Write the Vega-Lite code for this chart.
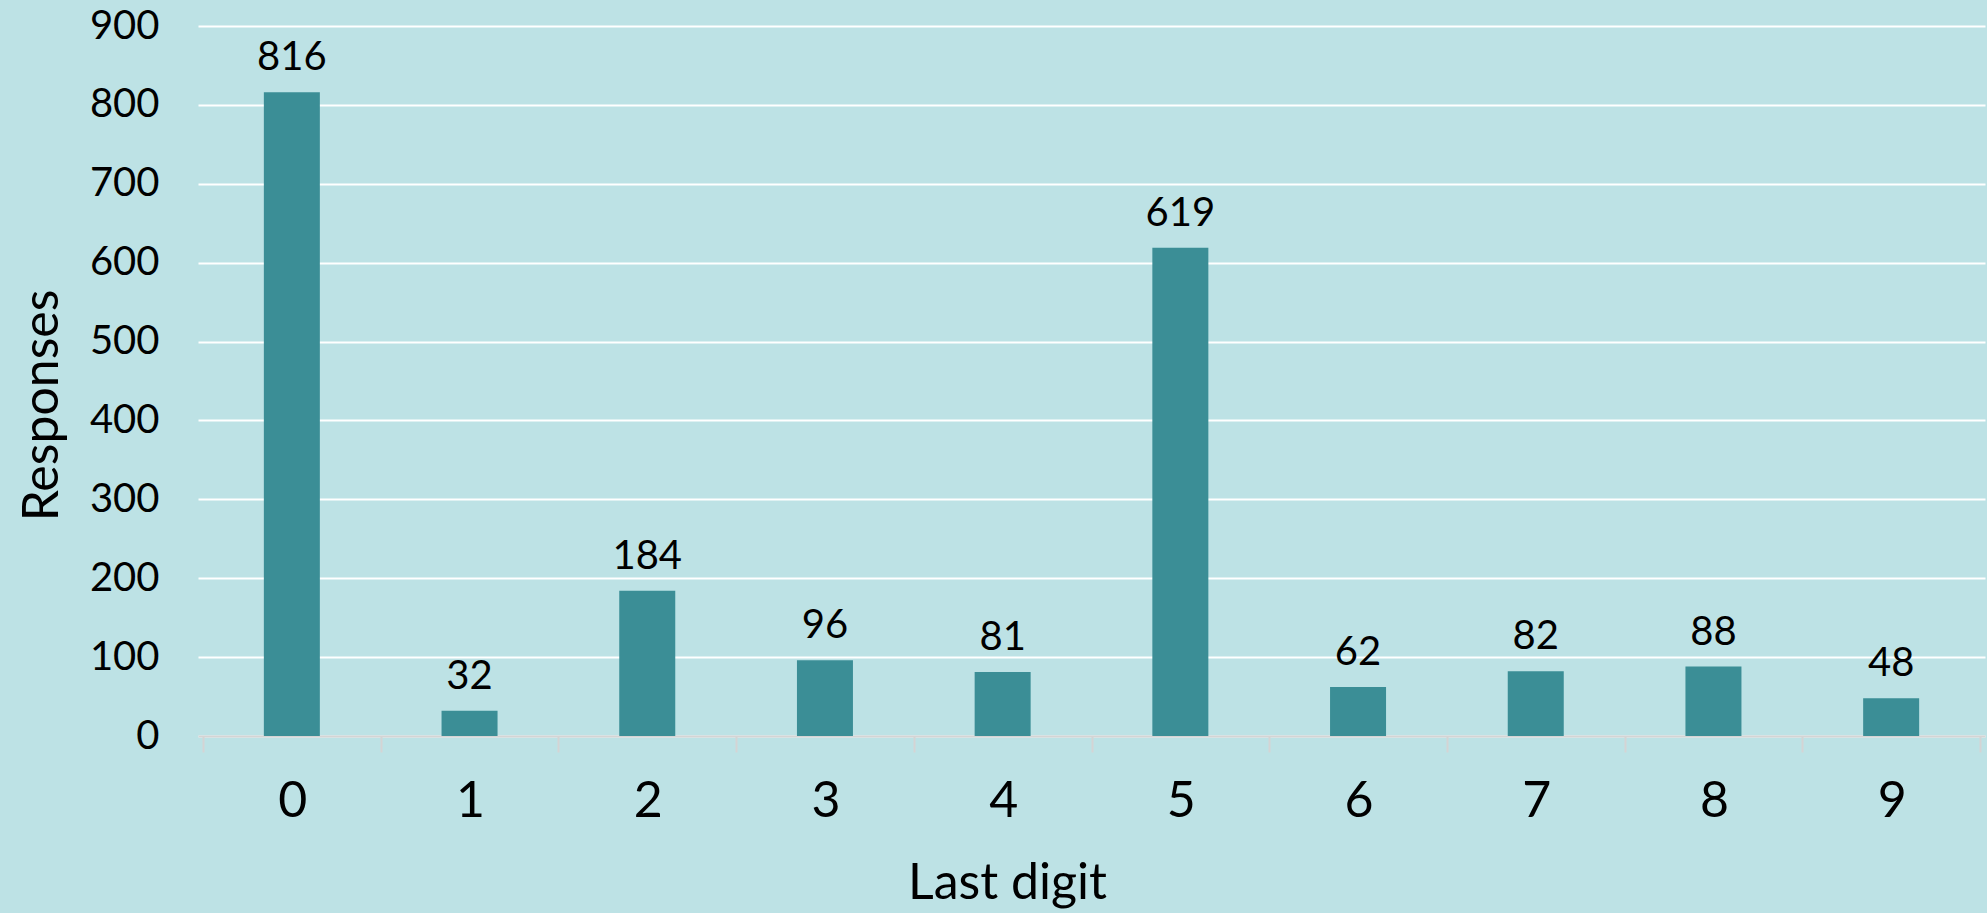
{
  "$schema": "https://vega.github.io/schema/vega-lite/v6.json",
  "autosize": {"type": "none"},
  "width": 1787,
  "height": 710,
  "padding": {"left": 198, "top": 26, "right": 2, "bottom": 177},
  "background": "#bde2e5",
  "config": {
    "view": {"stroke": null},
    "font": "Lato",
    "axis": {"labelFont": "Lato", "titleFont": "Lato", "labelColor": "#000000", "titleColor": "#000000", "titleFontWeight": "normal"}
  },
  "data": {
    "values": [
      {"digit": 0, "responses": 816},
      {"digit": 1, "responses": 32},
      {"digit": 2, "responses": 184},
      {"digit": 3, "responses": 96},
      {"digit": 4, "responses": 81},
      {"digit": 5, "responses": 619},
      {"digit": 6, "responses": 62},
      {"digit": 7, "responses": 82},
      {"digit": 8, "responses": 88},
      {"digit": 9, "responses": 48}
    ]
  },
  "encoding": {
    "x": {
      "field": "digit",
      "type": "quantitative",
      "scale": {"domain": [-0.5, 9.5], "nice": false, "zero": false},
      "axis": {
        "title": "Last digit",
        "values": [-0.5, 0.5, 1.5, 2.5, 3.5, 4.5, 5.5, 6.5, 7.5, 8.5, 9.5],
        "labelExpr": "datum.value > 9 ? '' : format(datum.value + 0.5, 'd')",
        "labelOffset": 89.35,
        "labelFontSize": 50,
        "labelPadding": 24,
        "labelFlush": false,
        "labelOverlap": false,
        "labelBaseline": "top",
        "tickSize": 16,
        "tickColor": "#d4d4d4",
        "tickWidth": 2,
        "domainColor": "#d4d4d4",
        "domainWidth": 2,
        "grid": false,
        "titleFontSize": 50,
        "titleX": 809,
        "titleY": 147,
        "titleBaseline": "middle",
        "titleAlign": "center",
        "titleAnchor": null
      }
    },
    "y": {
      "field": "responses",
      "type": "quantitative",
      "scale": {"domain": [0, 900], "nice": false},
      "axis": {
        "title": "Responses",
        "values": [0, 100, 200, 300, 400, 500, 600, 700, 800, 900],
        "labelFontSize": 40,
        "labelPadding": 39,
        "tickSize": 0,
        "domain": false,
        "grid": true,
        "gridColor": "#ffffff",
        "gridWidth": 2,
        "gridOpacity": 1,
        "titleFontSize": 50,
        "titleAngle": -90,
        "titleX": -156,
        "titleY": 379,
        "titleBaseline": "middle",
        "titleAlign": "center",
        "titleAnchor": null
      }
    }
  },
  "layer": [
    {"mark": {"type": "bar", "color": "#3b8e96", "width": 56}},
    {
      "mark": {"type": "text", "fontSize": 40, "baseline": "alphabetic", "dy": -22, "color": "#000000", "font": "Lato"},
      "encoding": {"text": {"field": "responses", "type": "quantitative"}}
    }
  ]
}
